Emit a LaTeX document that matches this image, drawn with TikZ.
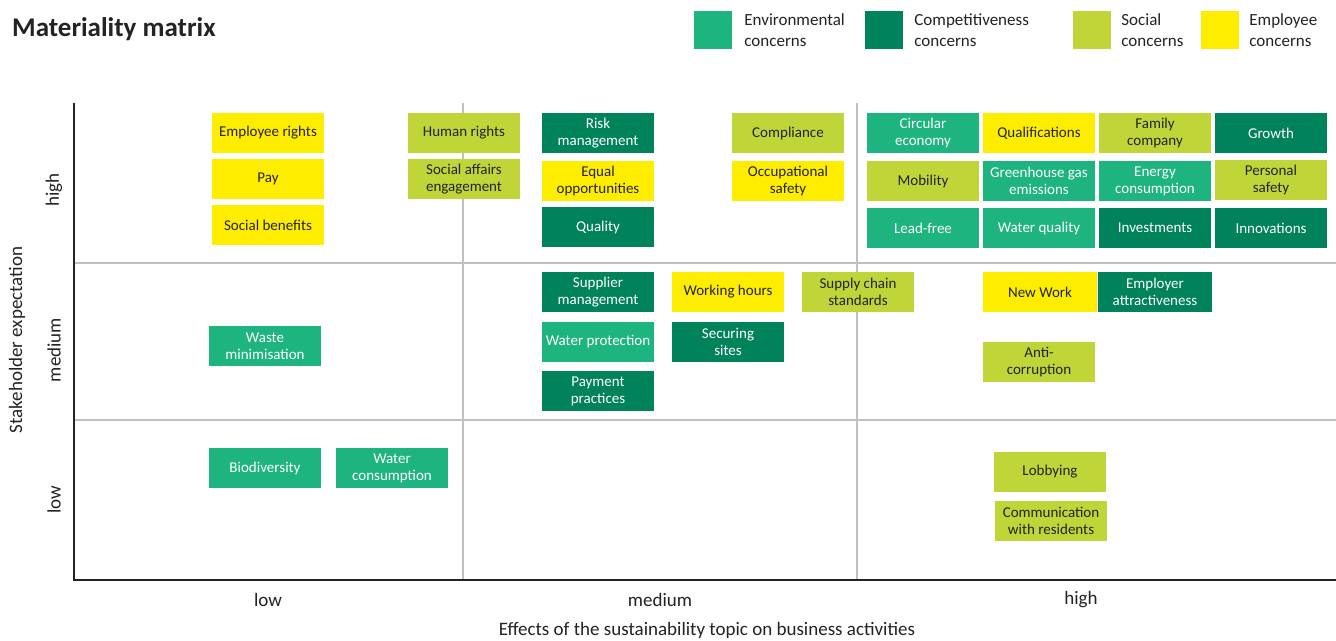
\documentclass[tikz,border=0pt]{standalone}
\usepackage{fontspec}
\setmainfont{Carlito}
\usepackage{xcolor}
\usetikzlibrary{positioning}
\definecolor{envgreen}{RGB}{30,180,128}
\definecolor{compgreen}{RGB}{0,130,90}
\definecolor{socgreen}{RGB}{192,214,56}
\definecolor{emplyellow}{RGB}{255,237,0}
\definecolor{txtdark}{RGB}{35,35,35}
\definecolor{gridgray}{RGB}{192,192,192}
\tikzset{
topic/.style={minimum width=112pt, minimum height=40pt, inner sep=0pt, align=center, font=\fontsize{15}{17}\selectfont},
env/.style={topic, fill=envgreen, text=white},
comp/.style={topic, fill=compgreen, text=white},
soc/.style={topic, fill=socgreen, text=txtdark},
empl/.style={topic, fill=emplyellow, text=txtdark},
legbox/.style={minimum size=38pt, inner sep=0pt},
legtext/.style={align=left, inner sep=0pt, text=txtdark, font=\fontsize{17}{21}\selectfont},
level/.style={text=txtdark, font=\fontsize{19}{21}\selectfont},
axistitle/.style={text=txtdark, font=\fontsize{19}{21}\selectfont}
}

\begin{document}
\begin{tikzpicture}[x=1pt,y=-1pt]
\useasboundingbox[fill=white] (0,0) rectangle (1336,640);
% title and legend
\node[anchor=west, inner sep=0pt, text=txtdark, font=\fontsize{27}{30}\bfseries] (title) at (12,29) {Materiality matrix};
\node[legbox, fill=envgreen] (legenv) at (713,30) {};
\node[legtext, right=12pt of legenv] (legenvtext) {Environmental\\concerns};
\node[legbox, fill=compgreen] (legcomp) at (884,30) {};
\node[legtext, right=11pt of legcomp] (legcomptext) {Competitiveness\\concerns};
\node[legbox, fill=socgreen] (legsoc) at (1092,30) {};
\node[legtext, right=10pt of legsoc] (legsoctext) {Social\\concerns};
\node[legbox, fill=emplyellow] (legempl) at (1220,30) {};
\node[legtext, right=10pt of legempl] (legempltext) {Employee\\concerns};
% grid
\draw[gridgray, line width=1.5pt] (463,103) -- (463,580) (857,103) -- (857,580);
\draw[gridgray, line width=1.5pt] (74,263) -- (1336,263) (74,420) -- (1336,420);
\draw[txtdark, line width=1.5pt] (74,103) -- (74,580) -- (1336,580);
% axis labels
\node[level, rotate=90] (yhigh) at (54,190) {high};
\node[level, rotate=90] (ymedium) at (54,350) {medium};
\node[level, rotate=90] (ylow) at (54,500) {low};
\node[axistitle, rotate=90] (ytitle) at (17,340) {Stakeholder expectation};
\node[level] (xlow) at (268,600) {low};
\node[level] (xmedium) at (660,600) {medium};
\node[level] (xhigh) at (1081,600) {high};
\node[axistitle] (xtitle) at (707,630) {Effects of the sustainability topic on business activities};
% high expectation
\node[empl] (emplrights) at (268,133) {Employee rights};
\node[empl] (pay) at (268,179) {Pay};
\node[empl] (socbenefits) at (268,225) {Social benefits};
\node[soc] (humanrights) at (464,133) {Human rights};
\node[soc] (socaffairs) at (464,179) {Social affairs\\engagement};
\node[comp] (riskmgmt) at (598,133) {Risk\\management};
\node[empl] (equalopp) at (598,181) {Equal\\opportunities};
\node[comp] (quality) at (598,227) {Quality};
\node[soc] (compliance) at (788,133) {Compliance};
\node[empl] (occsafety) at (788,181) {Occupational\\safety};
\node[env] (circular) at (923,133) {Circular\\economy};
\node[empl] (qualif) at (1039,133) {Qualifications};
\node[soc] (family) at (1155,133) {Family\\company};
\node[comp] (growth) at (1271,133) {Growth};
\node[soc] (mobility) at (923,181) {Mobility};
\node[env] (ghg) at (1039,181) {Greenhouse gas\\emissions};
\node[env] (energy) at (1155,181) {Energy\\consumption};
\node[soc] (perssafety) at (1271,180) {Personal\\safety};
\node[env] (leadfree) at (923,228) {Lead-free};
\node[env] (waterqual) at (1039,228) {Water quality};
\node[comp] (invest) at (1155,228) {Investments};
\node[comp] (innov) at (1271,228) {Innovations};
% medium expectation
\node[env] (waste) at (265,346) {Waste\\minimisation};
\node[comp] (supplier) at (598,292) {Supplier\\management};
\node[env] (waterprot) at (598,342) {Water protection};
\node[comp] (payment) at (598,391) {Payment\\practices};
\node[empl] (workhours) at (728,292) {Working hours};
\node[comp] (securing) at (728,342) {Securing\\sites};
\node[soc] (supplychain) at (858,292) {Supply chain\\standards};
\node[empl, minimum width=114pt] (newwork) at (1040,292) {New Work};
\node[comp, minimum width=114pt] (employer) at (1155,292) {Employer\\attractiveness};
\node[soc] (anticorr) at (1039,362) {Anti-\\corruption};
% low expectation
\node[env] (biodiv) at (265,468) {Biodiversity};
\node[env] (watercons) at (392,468) {Water\\consumption};
\node[soc] (lobbying) at (1050,472) {Lobbying};
\node[soc] (residents) at (1051,521) {Communication\\with residents};
\end{tikzpicture}
\end{document}
